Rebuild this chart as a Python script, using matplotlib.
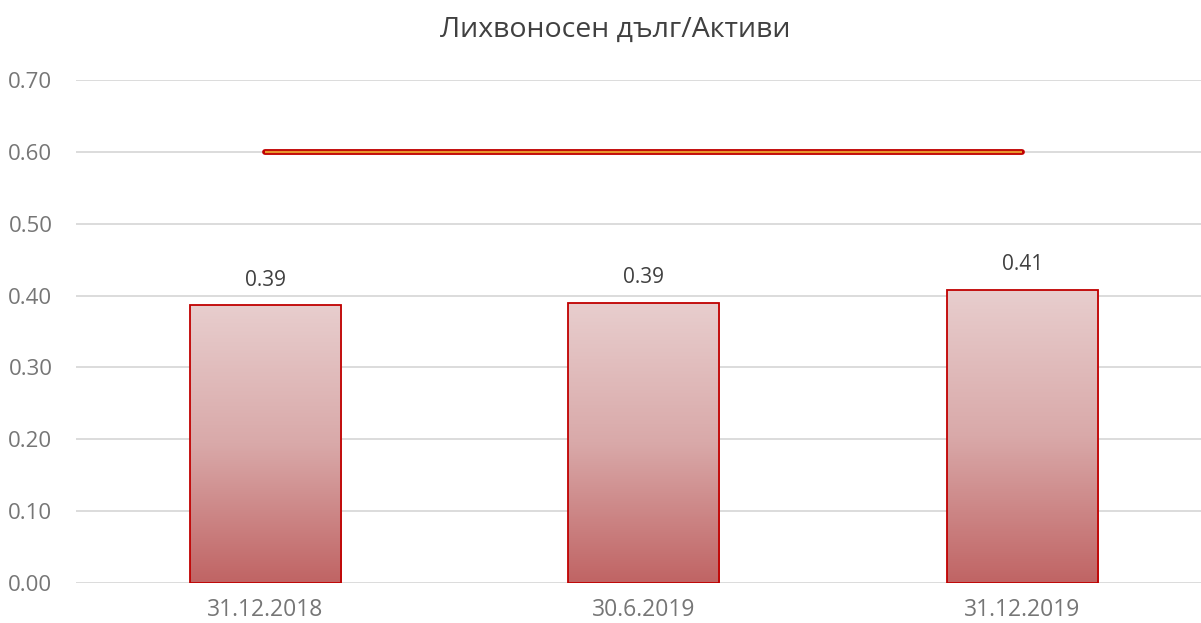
import numpy as np
import matplotlib
matplotlib.use('Agg')
import matplotlib.pyplot as plt
from matplotlib.colors import LinearSegmentedColormap

categories = ['31.12.2018', '30.6.2019', '31.12.2019']
values = [0.387, 0.390, 0.408]
labels = ['0.39', '0.39', '0.41']
limit = [0.60, 0.60, 0.60]
yticks = [0.0, 0.1, 0.2, 0.3, 0.4, 0.5, 0.6, 0.7]

plt.rcParams['font.family'] = ['Open Sans', 'DejaVu Sans']

W, H = 1201, 623
fig = plt.figure(figsize=(W / 100, H / 100), dpi=100)
ax = fig.add_axes([76 / W, 40 / H, 1135.5 / W, 503 / H])

x = np.arange(len(categories))
bars = ax.bar(x, values, width=0.4, color='none', edgecolor='#C00000',
              linewidth=1.3, zorder=3)

cmap = LinearSegmentedColormap.from_list('grad', ['#C06464', '#D9A9A9', '#E8CECE'])
grad = np.linspace(0, 1, 256).reshape(-1, 1)
for b in bars:
    x0, y0 = b.get_x(), b.get_y()
    im = ax.imshow(grad, cmap=cmap, origin='lower', aspect='auto',
                   extent=[x0, x0 + b.get_width(), y0, y0 + b.get_height()],
                   zorder=2)
    im.set_clip_path(b)

for xi, v, t in zip(x, values, labels):
    ax.text(xi, v + 0.02, t, ha='center', va='bottom', fontsize=15, color='#404040')

ax.plot(x, limit, color='#C00000', linewidth=4.2, solid_capstyle='round', zorder=4)
ax.plot(x, limit, color='#E8962E', linewidth=1.6, solid_capstyle='butt', zorder=5)

ax.set_xlim(-0.5, 2.5)
ax.set_ylim(0, 0.7)
ax.set_yticks(yticks)
ax.set_yticklabels([f'{t:.2f}' for t in yticks])
ax.set_xticks(x)
ax.set_xticklabels(categories)
ax.tick_params(axis='both', length=0, labelsize=16, colors='#767676')
ax.tick_params(axis='x', labelsize=16.5)
ax.tick_params(axis='y', pad=17)
ax.tick_params(axis='x', pad=11)
ax.grid(axis='y', color='#D9D9D9', linewidth=1.3, zorder=0)
for s in ax.spines.values():
    s.set_visible(False)

fig.text(615 / W, 1 - 30 / H, 'Лихвоносен дълг/Активи', ha='center', va='center',
         fontsize=20.5, color='#404040')

fig.savefig('out.png', dpi=100)
